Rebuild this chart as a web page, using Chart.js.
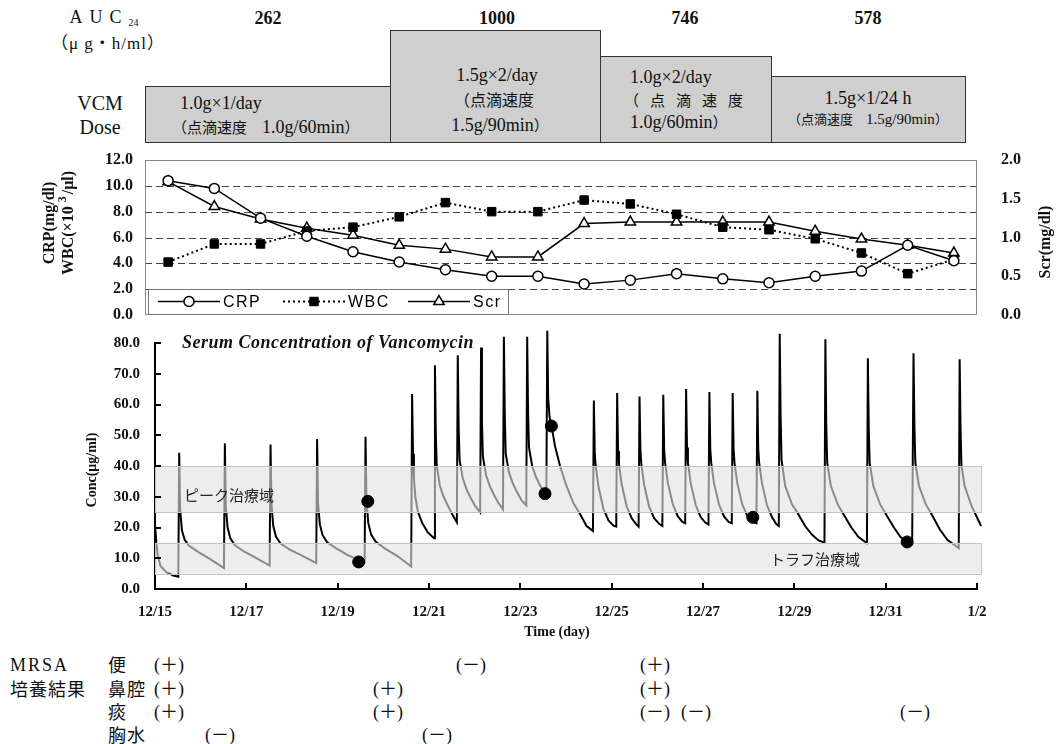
<!DOCTYPE html>
<html>
<head>
<meta charset="utf-8">
<script src="https://cdn.jsdelivr.net/npm/chart.js@4.4.0/dist/chart.umd.min.js"></script>
<style>
  body { margin:0; width:1063px; height:744px; position:relative; overflow:hidden; background:#fff;
         font-family:"Liberation Serif","Noto Sans CJK JP",serif; color:#111; }
  .t { position:absolute; white-space:nowrap; line-height:1; }
  .c { transform:translate(-50%,-50%); }
  .m { transform:translateY(-50%); }
  .box { position:absolute; background:#cfcfcf; border:1.5px solid #333; box-sizing:border-box; }
  .bx { font-size:18px; }
  .j { font-size:15px; font-family:"Noto Sans CJK JP"; }
  .b { font-weight:bold; }
  .r { font-size:18px; }
  .r .j { font-size:18px; letter-spacing:1px; }
  canvas { position:absolute; left:0; }
</style>
</head>
<body>

<!-- dose / AUC header -->
<div class="t c" style="left:104px;top:17px;font-size:18px;letter-spacing:7px">AUC<span style="font-size:10px;letter-spacing:0;position:relative;top:3px">24</span></div>
<div class="t c" style="left:108px;top:42px;font-size:17px;letter-spacing:1px"><span class="j" style="font-size:17px">（</span>μ g・h/ml<span class="j" style="font-size:17px">）</span></div>
<div class="t c" style="left:100px;top:103px;font-size:20px">VCM</div>
<div class="t c" style="left:100px;top:127px;font-size:20px">Dose</div>

<div class="t c b" style="left:268px;top:18px;font-size:18px">262</div>
<div class="t c b" style="left:497px;top:18px;font-size:18px">1000</div>
<div class="t c b" style="left:685px;top:18px;font-size:18px">746</div>
<div class="t c b" style="left:868px;top:18px;font-size:18px">578</div>

<div class="box" style="left:145px;top:86px;width:246px;height:57px"></div>
<div class="box" style="left:390px;top:30px;width:211px;height:113px"></div>
<div class="box" style="left:600px;top:56px;width:172px;height:87px"></div>
<div class="box" style="left:771px;top:76px;width:195px;height:67px"></div>

<div class="t m bx" style="left:180px;top:103px">1.0g×1/day</div>
<div class="t m bx" style="left:172px;top:127px"><span class="j">（点滴速度　</span>1.0g/60min<span class="j">）</span></div>

<div class="t c bx" style="left:497px;top:75px">1.5g×2/day</div>
<div class="t c bx" style="left:494px;top:100px"><span class="j" style="font-size:16px">（点滴速度</span></div>
<div class="t c bx" style="left:500px;top:125px">1.5g/90min<span class="j">）</span></div>

<div class="t m bx" style="left:630px;top:77px">1.0g×2/day</div>
<div class="t m bx" style="left:624px;top:100px"><span class="j" style="letter-spacing:11px">（点滴速度</span></div>
<div class="t m bx" style="left:630px;top:122px">1.0g/60min<span class="j">）</span></div>

<div class="t c bx" style="left:868px;top:98px">1.5g×1/24 h</div>
<div class="t c" style="left:868px;top:119px;font-size:15px"><span class="j" style="font-size:13px">（点滴速度　</span>1.5g/90min<span class="j" style="font-size:13px">）</span></div>

<canvas id="labs" width="1063" height="185" style="top:145px"></canvas>
<canvas id="conc" width="1063" height="315" style="top:330px"></canvas>

<!-- MRSA culture results -->
<div class="t m r" style="left:10px;top:665px;letter-spacing:2px">MRSA</div>
<div class="t m r" style="left:10px;top:689px"><span class="j">培養結果</span></div>
<div class="t m r" style="left:108px;top:665px"><span class="j">便</span></div>
<div class="t m r" style="left:108px;top:689px"><span class="j">鼻腔</span></div>
<div class="t m r" style="left:108px;top:712px"><span class="j">痰</span></div>
<div class="t m r" style="left:108px;top:735px"><span class="j">胸水</span></div>

<div class="t m r" style="left:154px;top:665px">(＋)</div>
<div class="t m r" style="left:456px;top:665px">(－)</div>
<div class="t m r" style="left:640px;top:665px">(＋)</div>

<div class="t m r" style="left:154px;top:689px">(＋)</div>
<div class="t m r" style="left:373px;top:689px">(＋)</div>
<div class="t m r" style="left:640px;top:689px">(＋)</div>

<div class="t m r" style="left:154px;top:712px">(＋)</div>
<div class="t m r" style="left:373px;top:712px">(＋)</div>
<div class="t m r" style="left:640px;top:712px">(－)</div>
<div class="t m r" style="left:681px;top:712px">(－)</div>
<div class="t m r" style="left:900px;top:712px">(－)</div>

<div class="t m r" style="left:205px;top:735px">(－)</div>
<div class="t m r" style="left:422px;top:735px">(－)</div>

<script>
// ---- lab values, one point per day ----
const labIndex = [0, 1, 2, 3, 4, 5, 6, 7, 8, 9, 10, 11, 12, 13, 14, 15, 16, 17];
const crp = [10.4, 9.8, 7.5, 6.1, 4.9, 4.1, 3.5, 3.0, 3.0, 2.4, 2.7, 3.2, 2.8, 2.5, 3.0, 3.4, 5.4, 4.2];
const wbc = [4.1, 5.5, 5.5, 6.5, 6.8, 7.6, 8.7, 8.0, 8.0, 8.9, 8.6, 7.8, 6.8, 6.6, 5.9, 4.8, 3.2, 4.3];
const scr = [1.72, 1.40, 1.24, 1.12, 1.03, 0.90, 0.85, 0.75, 0.75, 1.18, 1.20, 1.20, 1.20, 1.20, 1.08, 0.98, 0.90, 0.80];

// ---- simulated serum vancomycin concentration [day from 12/15, ug/ml] ----
const phase1Curve = [
  [0, 21], [0.03, 15], [0.06, 11], [0.12, 7.5], [0.25, 5.5], [0.4, 4.4], [0.51, 4.0],
  [0.53, 44.3], [0.55, 26], [0.59, 19], [0.65, 16], [0.75, 14], [0.95, 12], [1.2, 9.8], [1.51, 6.8],
  [1.53, 47.4], [1.55, 27], [1.59, 20], [1.65, 16.5], [1.75, 14.2], [1.95, 12.2], [2.2, 10.2], [2.51, 7.6],
  [2.53, 47.0], [2.55, 27.5], [2.59, 20.5], [2.65, 17], [2.75, 14.8], [2.95, 12.8], [3.2, 11], [3.53, 8.4],
  [3.55, 48.8], [3.57, 28], [3.61, 21], [3.67, 17.5], [3.77, 15.2], [3.97, 13.2], [4.2, 11.2], [4.59, 8.6],
  [4.61, 49.5], [4.63, 29], [4.67, 21.5], [4.73, 17.8], [4.83, 15.4], [5.03, 13.2], [5.3, 10.8], [5.61, 7.3]
];
const phase2Curve = [
  [5.63, 63.4], [5.65, 44], [5.67, 36], [5.7, 30], [5.76, 25], [5.85, 21.5], [5.97, 18.5], [6.11, 16.5],
  [6.13, 72.8], [6.15, 50], [6.17, 40], [6.24, 33.5], [6.32, 30], [6.4, 27.5], [6.52, 24], [6.61, 21.7],
  [6.63, 76.0], [6.65, 52], [6.67, 42], [6.74, 36], [6.82, 32.5], [6.9, 30], [7.01, 27], [7.12, 24.9],
  [7.14, 78.5], [7.16, 54], [7.18, 43], [7.25, 37], [7.33, 33.5], [7.41, 31], [7.52, 28], [7.62, 25.9],
  [7.64, 82.0], [7.66, 56], [7.68, 44], [7.75, 38], [7.83, 34.5], [7.91, 32], [8.02, 29], [8.13, 27.2],
  [8.15, 82.0], [8.17, 57], [8.19, 46], [8.26, 40], [8.34, 36.5], [8.42, 34], [8.5, 32], [8.57, 30.5],
  [8.59, 84.0], [8.61, 62], [8.64, 56], [8.69, 52.5], [8.76, 46.4], [8.87, 40], [9.01, 33.5], [9.16, 28],
  [9.31, 24.3], [9.45, 20.5], [9.59, 18.9]
];
const phase3Curve = [
  [9.61, 61.3], [9.63, 44], [9.65, 40], [9.71, 33.4], [9.82, 26], [9.93, 22.3], [10.04, 20.6], [10.1, 20.3],
  [10.12, 63.7], [10.14, 45], [10.16, 40.5], [10.22, 34], [10.33, 26.8], [10.44, 23], [10.54, 21], [10.59, 20.3],
  [10.61, 62.6], [10.63, 45], [10.65, 40.5], [10.71, 34], [10.82, 26.8], [10.93, 23], [11.04, 21.2], [11.11, 20.5],
  [11.13, 63.2], [11.15, 45], [11.17, 41], [11.23, 34.5], [11.34, 27.5], [11.45, 23.6], [11.55, 21.8], [11.61, 21.4],
  [11.63, 65.0], [11.65, 46], [11.67, 41], [11.73, 34.5], [11.84, 27.3], [11.95, 23.4], [12.05, 21.6], [12.12, 21.0],
  [12.14, 64.1], [12.16, 45.5], [12.18, 41], [12.24, 34.5], [12.35, 27.5], [12.46, 23.6], [12.56, 21.8], [12.63, 21.4],
  [12.65, 63.7], [12.67, 45.5], [12.69, 41], [12.75, 34.5], [12.86, 27.5], [12.97, 23.8], [13.08, 22], [13.17, 21.4],
  [13.19, 64.5], [13.21, 45.5], [13.23, 41], [13.29, 34.5], [13.4, 27.3], [13.51, 23.4], [13.6, 21.2], [13.66, 20.5]
];
const phase4Curve = [
  [13.68, 83.0], [13.7, 56], [13.72, 42], [13.8, 33.5], [13.95, 27.5], [14.06, 25], [14.24, 20.4], [14.39, 17.6], [14.53, 15.8], [14.66, 15.1],
  [14.68, 81.2], [14.7, 53], [14.72, 41], [14.8, 33.5], [14.95, 27.5], [15.07, 24.5], [15.25, 20], [15.4, 17], [15.59, 14.9],
  [15.61, 75.0], [15.63, 52], [15.65, 41], [15.73, 33.5], [15.88, 27.5], [16.0, 24.5], [16.18, 20], [16.33, 16.8], [16.58, 14.6],
  [16.61, 76.7], [16.63, 53], [16.65, 41], [16.73, 33.5], [16.88, 27.5], [17.0, 24.5], [17.18, 19.5], [17.35, 16], [17.6, 13.3],
  [17.62, 74.7], [17.64, 52], [17.66, 40], [17.73, 33.5], [17.88, 27], [18.09, 20.5]
];

// measured levels (black dots)
const measuredDays = [4.46, 4.66, 8.54, 8.68, 13.09, 16.47];
const measuredConc = [8.8, 28.5, 31.0, 53.0, 23.3, 15.3];

const dateTicks = ['12/15', '12/17', '12/19', '12/21', '12/23', '12/25', '12/27', '12/29', '12/31', '1/2'];
const peakRange = [25, 40];
const troughRange = [5, 15];
const curveEnd = 18.09;

const serif = 'Liberation Serif';
const tickFont = { family: serif, weight: 'bold', size: 15 };

// fixed axis box; drop the extra vertical room Chart.js reserves for the end labels
const fixWidth = w => s => { s.width = w; s.paddingTop = 0; s.paddingBottom = 0; };

// ---------- upper chart: CRP / WBC / Scr ----------
const labDeco = {
  id: 'labDeco',
  beforeDatasetsDraw(chart) {
    const { ctx, chartArea: a, scales: { y } } = chart;
    ctx.save();
    ctx.strokeStyle = '#444';
    ctx.lineWidth = 1;
    ctx.setLineDash([7, 4]);
    y.ticks.forEach(t => {
      if (t.value <= y.min || t.value >= y.max) return;
      const py = Math.round(y.getPixelForValue(t.value)) + 0.5;
      ctx.beginPath(); ctx.moveTo(a.left, py); ctx.lineTo(a.right, py); ctx.stroke();
    });
    ctx.setLineDash([]);
    ctx.strokeStyle = '#888';
    ctx.strokeRect(a.left + 0.5, a.top + 0.5, a.width - 1, a.height - 1);
    ctx.restore();
  },
  afterDatasetsDraw(chart) {
    const { ctx, chartArea: a } = chart;
    const L = a.left + 3, B = a.bottom - 1, W = 360, H = 25, cy = B - H / 2;
    ctx.save();
    ctx.fillStyle = '#fff';
    ctx.fillRect(L, B - H, W, H);
    ctx.strokeStyle = '#777';
    ctx.lineWidth = 1;
    ctx.strokeRect(L + 0.5, B - H + 0.5, W, H);
    const items = chart.data.datasets.map((d, i) => ({ d, x: L + 10 + i * 125 }));
    ctx.font = '16px "Liberation Sans"';
    ctx.letterSpacing = '1.5px';
    ctx.textBaseline = 'middle';
    items.forEach(({ d, x }) => {
      ctx.strokeStyle = '#000';
      ctx.lineWidth = d.borderWidth;
      ctx.setLineDash(d.borderDash || []);
      ctx.beginPath(); ctx.moveTo(x, cy); ctx.lineTo(x + 62, cy); ctx.stroke();
      ctx.setLineDash([]);
      ctx.fillStyle = d.pointBackgroundColor;
      ctx.lineWidth = d.pointBorderWidth;
      Chart.helpers.drawPoint(ctx, { pointStyle: d.pointStyle, radius: d.pointRadius, borderWidth: d.pointBorderWidth }, x + 31, cy);
      ctx.fillStyle = '#000';
      ctx.fillText(d.label, x + 65, cy + 1);
    });
    ctx.restore();
  },
  afterDraw(chart) {
    const { ctx } = chart;
    const f = `bold 16px "${serif}"`;
    const cy = 78;
    ctx.save();
    ctx.fillStyle = '#111';
    ctx.font = f;
    ctx.textAlign = 'center';
    ctx.textBaseline = 'middle';
    ctx.translate(50, cy); ctx.rotate(-Math.PI / 2);
    ctx.fillText('CRP(mg/dl)', 0, 0);
    ctx.restore();

    ctx.save();
    ctx.fillStyle = '#111';
    ctx.font = f;
    ctx.textBaseline = 'middle';
    ctx.translate(69, cy); ctx.rotate(-Math.PI / 2);
    const p1 = 'WBC(×10 ', p2 = '3', p3 = '/μl)';
    const w1 = ctx.measureText(p1).width, w3 = ctx.measureText(p3).width;
    ctx.font = `bold 12px "${serif}"`;
    const w2 = ctx.measureText(p2).width + 2;
    let x = -(w1 + w2 + w3) / 2;
    ctx.font = f;
    ctx.fillText(p1, x, 0); x += w1;
    ctx.font = `bold 12px "${serif}"`;
    ctx.fillText(p2, x, -6); x += w2;
    ctx.font = f;
    ctx.fillText(p3, x, 0);
    ctx.restore();

    ctx.save();
    ctx.fillStyle = '#111';
    ctx.font = f;
    ctx.textAlign = 'center';
    ctx.textBaseline = 'middle';
    ctx.translate(1046, 97); ctx.rotate(-Math.PI / 2);
    ctx.fillText('Scr(mg/dl)', 0, 0);
    ctx.restore();
  }
};

new Chart(document.getElementById('labs'), {
  type: 'line',
  data: {
    datasets: [
      {
        label: 'CRP', data: labIndex.map((x, i) => ({ x, y: crp[i] })), yAxisID: 'y',
        borderColor: '#000', borderWidth: 1.5, pointStyle: 'circle', pointRadius: 5,
        pointBackgroundColor: '#fff', pointBorderColor: '#000', pointBorderWidth: 1.5
      },
      {
        label: 'WBC', data: labIndex.map((x, i) => ({ x, y: wbc[i] })), yAxisID: 'y',
        borderColor: '#000', borderWidth: 2, borderDash: [2, 3], pointStyle: 'rect', pointRadius: 6,
        pointBackgroundColor: '#000', pointBorderColor: '#000', pointBorderWidth: 1
      },
      {
        label: 'Scr', data: labIndex.map((x, i) => ({ x, y: scr[i] })), yAxisID: 'y2',
        borderColor: '#000', borderWidth: 1.5, pointStyle: 'triangle', pointRadius: 6,
        pointBackgroundColor: '#fff', pointBorderColor: '#000', pointBorderWidth: 1.5
      }
    ]
  },
  options: {
    responsive: false,
    animation: false,
    layout: { padding: { top: 15, bottom: 15, left: 0, right: 0 } },
    scales: {
      x: { type: 'linear', min: -0.5, max: 17.5, display: false },
      y: {
        min: 0, max: 12,
        ticks: { stepSize: 2, autoSkip: false, callback: v => v.toFixed(1), font: { ...tickFont, size: 16 }, color: '#111', padding: 12 },
        grid: { display: false, drawTicks: false }, border: { display: false },
        afterFit: fixWidth(145)
      },
      y2: {
        position: 'right', min: 0, max: 2,
        ticks: { stepSize: 0.5, autoSkip: false, callback: v => v.toFixed(1), font: { ...tickFont, size: 16 }, color: '#111', padding: 24 },
        grid: { display: false, drawTicks: false }, border: { display: false },
        afterFit: fixWidth(86)
      }
    },
    plugins: { legend: { display: false }, tooltip: { enabled: false } }
  },
  plugins: [labDeco]
});

// ---------- lower chart: serum concentration ----------
const concDeco = {
  id: 'concDeco',
  afterDatasetDraw(chart, args) {
    if (args.index !== 1) return;
    const { ctx, chartArea: a, scales: { x, y } } = chart;
    const right = x.getPixelForValue(curveEnd);
    ctx.save();
    [peakRange, troughRange].forEach(([lo, hi]) => {
      const top = y.getPixelForValue(hi), bot = y.getPixelForValue(lo);
      ctx.fillStyle = 'rgba(225,225,225,0.61)';
      ctx.fillRect(a.left, top, right - a.left, bot - top);
      ctx.strokeStyle = '#c4c4c4';
      ctx.lineWidth = 1;
      ctx.strokeRect(a.left + 0.5, Math.round(top) + 0.5, right - a.left, Math.round(bot - top));
    });
    ctx.restore();
  },
  afterDraw(chart) {
    const { ctx, chartArea: a, scales: { x, y } } = chart;
    ctx.save();
    // inward tick marks
    ctx.strokeStyle = '#000';
    ctx.lineWidth = 2;
    y.ticks.forEach(t => {
      const py = Math.round(y.getPixelForValue(t.value));
      ctx.beginPath(); ctx.moveTo(a.left, py); ctx.lineTo(a.left + 6, py); ctx.stroke();
    });
    x.ticks.forEach(t => {
      const px = Math.round(x.getPixelForValue(t.value));
      ctx.beginPath(); ctx.moveTo(px, a.bottom); ctx.lineTo(px, a.bottom - 6); ctx.stroke();
    });
    // band labels
    ctx.fillStyle = '#222';
    ctx.font = '15px "Noto Sans CJK JP"';
    ctx.textBaseline = 'middle';
    ctx.fillText('ピーク治療域', 184, y.getPixelForValue(30.5));
    ctx.fillText('トラフ治療域', 770, y.getPixelForValue(9.5));
    // title
    ctx.fillStyle = '#111';
    ctx.font = `italic bold 18px "${serif}"`;
    ctx.letterSpacing = '0.5px';
    ctx.fillText('Serum Concentration of Vancomycin', 182, a.top);
    ctx.letterSpacing = '0px';
    // axis titles
    ctx.font = `bold 14px "${serif}"`;
    ctx.textAlign = 'center';
    ctx.fillText('Time (day)', 557, 302);
    ctx.translate(92, 140); ctx.rotate(-Math.PI / 2);
    ctx.fillText('Conc(μg/ml)', 0, 0);
    ctx.restore();
  }
};

new Chart(document.getElementById('conc'), {
  type: 'scatter',
  data: {
    datasets: [
      {
        data: measuredDays.map((d, i) => ({ x: d, y: measuredConc[i] })),
        pointRadius: 6, pointBackgroundColor: '#000', pointBorderColor: '#000', showLine: false
      },
      {
        data: [...phase1Curve, ...phase2Curve, ...phase3Curve, ...phase4Curve].map(([d, c]) => ({ x: d, y: c })),
        showLine: true, borderColor: '#000', borderWidth: 2, pointRadius: 0, tension: 0, clip: false
      }
    ]
  },
  options: {
    responsive: false,
    animation: false,
    layout: { padding: { top: 13, right: 86, left: 0, bottom: 0 } },
    scales: {
      x: {
        type: 'linear', min: 0, max: 18,
        ticks: { stepSize: 2, callback: v => dateTicks[v / 2], font: tickFont, color: '#111', padding: 14, maxRotation: 0 },
        grid: { display: false, drawTicks: false },
        border: { display: true, color: '#000', width: 2 },
        afterFit: s => { s.height = 56; }
      },
      y: {
        min: 0, max: 80,
        ticks: { stepSize: 10, autoSkip: false, callback: v => v.toFixed(1), font: tickFont, color: '#111', padding: 15 },
        grid: { display: false, drawTicks: false },
        border: { display: true, color: '#000', width: 2 },
        afterFit: fixWidth(155)
      }
    },
    plugins: { legend: { display: false }, tooltip: { enabled: false } }
  },
  plugins: [concDeco]
});
</script>
</body>
</html>
